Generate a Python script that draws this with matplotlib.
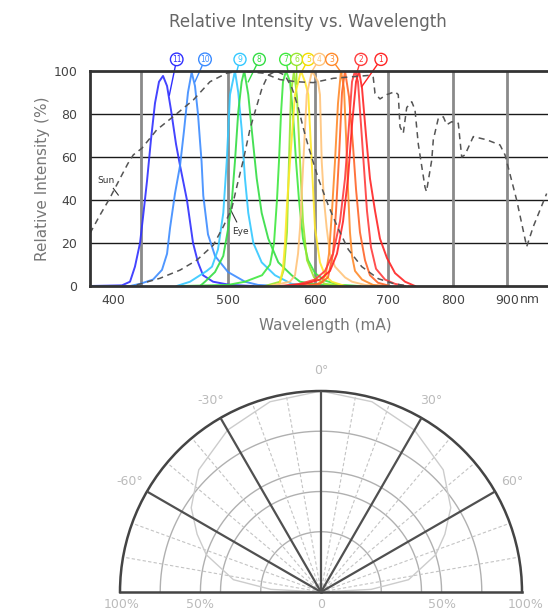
import numpy as np
import matplotlib
matplotlib.use('Agg')
import matplotlib.pyplot as plt

# ---- wavelength axis of the original is not linear; anchors for the scale
WL_ANCHOR = [380, 400, 500, 600, 700, 800, 900, 976]
POS_ANCHOR = [0, 23, 138, 225, 298, 363, 417, 458]

x_ticks = [400, 500, 600, 700, 800, 900]
x_labels = ['400', '500', '600', '700', '800', '900']
grid_wl = [424, 500, 600, 700, 800, 900]
y_ticks = [0, 20, 40, 60, 80, 100]

# ---- LED spectra (wavelength nm, relative intensity %)
led11_wl = [380, 407.8, 414.8, 419.1, 423.5, 426.1, 429.6, 433.0, 436.5, 440.0, 443.5, 447.0, 450.4, 454.8, 458.3, 464.3, 469.6, 473.9, 478.3, 487.0, 502.3, 528.7]
led11_pct = [0, 0.3, 2, 9, 20, 32, 49, 68, 85, 95, 97.7, 93, 82, 66, 56, 40, 20, 11, 5, 2, 0.5, 0]
led10_wl = [380, 414.8, 423.5, 434.8, 442.6, 447.0, 449.6, 453.9, 458.3, 461.7, 465.2, 468.4, 471.3, 473.9, 475.7, 477.0, 478.5, 482.6, 488.7, 500, 519.5, 534.5, 559.7]
led10_pct = [0, 0, 1, 3, 7.5, 15, 27, 43, 56, 72, 90, 99.4, 93, 80, 67, 58, 42, 24, 14, 6.5, 2, 0.5, 0]
led9_wl = [455.4, 467.0, 481.5, 486.1, 491.3, 495.9, 498.9, 502.3, 508.0, 511.8, 515.7, 519.5, 523.3, 529.1, 538.7, 554.0, 573.2, 594.3]
led9_pct = [0, 2, 7, 9, 17, 34, 58, 89, 100, 90, 73, 50, 34, 20, 11, 5, 1, 0]
led8_wl = [475.7, 480.0, 488.7, 495.9, 500.3, 504.3, 508.0, 511.8, 515.7, 518.7, 523.3, 527.2, 533.0, 538.7, 546.3, 557.8, 573.2, 582.8, 606.8, 657.1]
led8_pct = [0, 2, 6.5, 14, 27, 39, 58, 81, 95, 100, 89, 73, 50, 34, 22, 11, 5, 2, 0.5, 0]
led7_wl = [460, 500, 519.5, 539.1, 548.3, 552.9, 556.3, 558.6, 560.9, 563.2, 566.7, 571.3, 574.7, 578.2, 581.6, 586.2, 592.0, 600, 613.7, 634.2, 661.6]
led7_pct = [0, 0.5, 2, 5, 10, 20, 40, 58, 80, 95, 100, 95, 80, 58, 40, 22, 12, 6, 2.5, 0.5, 0]
led6_wl = [542.5, 559.8, 564.4, 567.8, 570.1, 572.4, 575.9, 579.3, 582.8, 586.2, 590.8, 598.9, 613.7, 641.1]
led6_pct = [0, 2, 8, 25, 58, 90, 100, 88, 58, 30, 12, 4, 1, 0]
led5_wl = [548.3, 559.3, 563.2, 565.5, 567.8, 571.3, 577.0, 583.9, 588.5, 592.3, 596.2, 600, 606.8, 613.7, 622.9, 641.1]
led5_pct = [0, 1, 8, 20, 38, 58, 89, 100, 95, 89, 58, 27, 11, 5, 2, 0]
led4_wl = [548.3, 571.3, 577.0, 580.5, 582.8, 586.6, 590.5, 596.6, 604.1, 606.8, 609.2, 612.3, 616.0, 620.5, 627.4, 641.1, 650.7, 668.5, 689.0]
led4_pct = [0, 2, 5, 15, 27, 58, 89, 100, 95, 89, 58, 40, 27, 15, 9, 4, 2, 0.5, 0]
led3_wl = [582.8, 600, 609.6, 615.1, 619.2, 623.3, 627.4, 631.5, 635.6, 639.7, 642.5, 645.2, 647.9, 650.7, 654.8, 664.4, 679.5, 695.9]
led3_pct = [0, 0.5, 2, 6, 15, 35, 58, 85, 100, 92, 70, 45, 25, 14, 7, 3, 0.5, 0]
led3b_wl = [582.8, 606.8, 617.8, 624.7, 628.8, 632.9, 637.0, 641.1, 646.6, 652.1, 656.2, 661.6, 668.5, 675.3, 686.3, 703.1]
led3b_pct = [0, 1, 4, 15, 35, 60, 90, 100, 88, 65, 45, 25, 12, 5, 1.5, 0]
led2_wl = [559.8, 582.8, 600, 613.7, 624.7, 634.2, 641.1, 646.6, 650.7, 654.8, 658.9, 663.0, 667.1, 671.2, 676.7, 683.6, 695.9, 710.8, 726.2]
led2_pct = [0, 1, 3, 7, 15, 30, 50, 75, 95, 100, 95, 75, 55, 35, 18, 8, 3, 1, 0]
led1_wl = [565.5, 588.5, 606.8, 620.5, 630.1, 638.4, 645.2, 650.7, 656.2, 660.3, 664.4, 669.9, 675.3, 682.2, 689.0, 698.6, 710.8, 726.2, 741.5]
led1_pct = [0, 1, 3, 7, 15, 30, 50, 75, 95, 100, 92, 70, 50, 35, 22, 13, 6, 2, 0]

# sun spectrum and eye sensitivity (dashed)
sun_wl = [380, 388.7, 397.4, 406.1, 413.0, 417.7, 425.0, 438.0, 452.4, 469.8, 484.3, 498.9, 513.8, 540.6, 559.8, 579.0, 598.0, 625.1, 675.3, 679.8, 682.2, 689.0, 698.2, 710.8, 715.8, 718.5, 723.5, 728.8, 736.5, 741.5, 746.6, 756.9, 759.2, 767.3, 769.7, 777.4, 785.1, 790.3, 798.0, 809.8, 816.1, 822.2, 837.6, 862.4, 887.0, 896.3, 917.9, 936.5, 948.7, 973.5]
sun_pct = [24.5, 33, 41, 50, 57, 61, 64, 72.6, 78.8, 86.5, 95, 99, 100, 99, 96, 95, 94.6, 96.6, 98, 97, 89.6, 87, 89, 90.4, 89, 74, 71, 83, 85.7, 82, 66, 46, 43.9, 58.6, 68, 78, 78.7, 75, 76.4, 75.7, 60, 61, 69.5, 68, 65.6, 61, 40, 18.3, 27.6, 43]
eye_wl = [420.6, 440.9, 458.3, 472.8, 487.2, 495.9, 504.3, 510.0, 517.6, 525.3, 531.0, 539.1, 546.0, 555.2, 565.5, 573.6, 580.8, 586.2, 592.3, 604.5, 618.2, 631.9, 645.6, 664.0, 686.7, 709.6, 732.3]
eye_pct = [0.5, 3.6, 7.4, 12, 19, 27.6, 36, 46, 58.6, 73, 81, 92, 98, 100, 98, 92, 83, 74, 65, 50, 37.5, 26.6, 17, 9, 3.4, 1, 0]

# numbered markers above the plot: label, marker wl, pointed wl, pointed %
marker_names = ['11', '10', '9', '8', '7', '6', '5', '4', '3', '2', '1']
marker_wl = [455.4, 480.0, 513.8, 536.0, 566.3, 578.9, 592.3, 605.9, 622.9, 663.0, 690.4]
marker_to_wl = [449.0, 471.3, 510.0, 523.3, 569.0, 579.0, 584.7, 596.2, 636.6, 657.1, 664.0]
marker_to_pct = [88.8, 95, 99.7, 95, 99.7, 94, 99.7, 99.7, 99, 99, 92.7]

# ---- beam pattern
beam_deg = [-90, -87, -82, -72, -65, -57, -45, -30, -15, 0, 15, 30, 45, 57, 65, 72, 82, 87, 90]
beam_r = [0, 0.25, 0.44, 0.60, 0.68, 0.77, 0.86, 0.93, 0.98, 1.0, 0.98, 0.93, 0.86, 0.77, 0.68, 0.60, 0.44, 0.25, 0]
ring_r = [0.3, 0.5, 0.6, 0.8]
major_deg = [-60, -30, 0, 30, 60]
minor_deg = [-80, -70, -50, -40, -20, -10, 10, 20, 40, 50, 70, 80]
bottom_r = [-0.99, -0.6, 0, 0.6, 1.02]
bottom_labels = ['100%', '50%', '0', '50%', '100%']

fig = plt.figure(figsize=(5.48, 6.12), dpi=100)

# ================= spectrum chart
ax = fig.add_axes([90 / 548, 1 - 286 / 612, 458 / 548, 215 / 612])


def fwd(x):
    return np.interp(x, WL_ANCHOR, POS_ANCHOR)


def inv(p):
    return np.interp(p, POS_ANCHOR, WL_ANCHOR)


ax.set_xscale('function', functions=(fwd, inv))
ax.set_xlim(380, 976)
ax.set_ylim(0, 100)

for y in [20, 40, 60, 80]:
    ax.axhline(y, color='#1a1a1a', lw=1.0, zorder=1)
for w in grid_wl:
    ax.axvline(w, color='#8a8a8a', lw=2.0, zorder=1)

leds = [
    (led11_wl, led11_pct, '#2f2fff'),
    (led10_wl, led10_pct, '#3d8cff'),
    (led9_wl, led9_pct, '#33c8ff'),
    (led8_wl, led8_pct, '#33dd44'),
    (led7_wl, led7_pct, '#3fe83f'),
    (led6_wl, led6_pct, '#99e62e'),
    (led5_wl, led5_pct, '#ffe82a'),
    (led4_wl, led4_pct, '#ffc47a'),
    (led3_wl, led3_pct, '#ff8a2a'),
    (led3b_wl, led3b_pct, '#ff6428'),
    (led2_wl, led2_pct, '#ff3c3c'),
    (led1_wl, led1_pct, '#ff2424'),
]
for wl, pct, c in leds:
    ax.plot(wl, pct, color=c, lw=1.4, alpha=0.9, zorder=3)

ax.plot(sun_wl, sun_pct, color='#555555', lw=1.1, dashes=(4, 3), zorder=4)
ax.plot(eye_wl, eye_pct, color='#555555', lw=1.1, dashes=(4, 3), zorder=4)

ax.text(393.9, 49.3, 'Sun', fontsize=6.5, color='#333333', ha='center', va='center')
ax.plot([400.3, 404.6], [45.4, 42.3], color='#333333', lw=0.8)
ax.text(513.8, 25.5, 'Eye', fontsize=6.5, color='#333333', ha='center', va='center')
ax.plot([502.3, 510.0], [36, 29.8], color='#333333', lw=0.8)

marker_colors = ['#2f2fff', '#3d8cff', '#33c8ff', '#33dd44', '#3fe83f', '#99e62e',
                 '#f5dc00', '#ffc47a', '#ff8a2a', '#ff3c3c', '#ff2424']
for name, mw, tw, tp, c in zip(marker_names, marker_wl, marker_to_wl, marker_to_pct, marker_colors):
    ax.plot([mw, tw], [105.4, tp], color=c, lw=1.0, clip_on=False, zorder=5)
    ax.text(mw, 105.4, name, fontsize=5.5, color=c, ha='center', va='center', zorder=6,
            clip_on=False,
            bbox=dict(boxstyle='circle,pad=0.2', fc='white', ec=c, lw=1.0))

for s in ['left', 'top', 'bottom']:
    ax.spines[s].set_linewidth(2)
    ax.spines[s].set_color('#333333')
    ax.spines[s].set_zorder(7)
ax.spines['right'].set_visible(False)

ax.set_xticks(x_ticks)
ax.set_xticklabels(x_labels)
ax.set_yticks(y_ticks)
ax.tick_params(length=0, labelsize=9, labelcolor='#444444')
ax.tick_params(axis='y', pad=9)
ax.tick_params(axis='x', pad=6)
ax.text(942, -6.4, 'nm', fontsize=9, color='#444444', ha='center', va='center')

ax.set_ylabel('Relative Intensity (%)', fontsize=11, color='#777777')
ax.yaxis.set_label_coords(-0.088, 0.5)
ax.set_xlabel('Wavelength (mA)', fontsize=11, color='#777777')
ax.xaxis.set_label_coords(0.513, -0.15)

fig.text(308 / 548, 1 - 22 / 612, 'Relative Intensity vs. Wavelength',
         fontsize=12, color='#666666', ha='center', va='center')

# ================= beam angle chart
# polar axes keep a square box; the half disc sits in its middle
pax = fig.add_axes([120 / 548, 1 - 692.5 / 612, 402 / 548, 402 / 612], projection='polar')
pax.set_theta_zero_location('N')
pax.set_theta_direction(-1)
pax.set_thetamin(-90)
pax.set_thetamax(90)
pax.set_ylim(0, 1)
pax.set_xticks([])
pax.set_yticks([])

full = np.deg2rad(np.linspace(-90, 90, 181))
for r in ring_r:
    pax.plot(full, np.full_like(full, r), color='#b0b0b0', lw=1.0, zorder=2)
for d in minor_deg:
    pax.plot([np.deg2rad(d)] * 2, [0, 1], color='#c4c4c4', lw=0.8, dashes=(3, 2), zorder=2)
pax.plot(np.deg2rad(beam_deg), beam_r, color='#cccccc', lw=1.0, zorder=2)
for d in major_deg:
    pax.plot([np.deg2rad(d)] * 2, [0, 1], color='#505050', lw=1.6, zorder=3)

for s in ['polar', 'start', 'end']:
    pax.spines[s].set_color('#444444')
    pax.spines[s].set_linewidth(1.8)

for d in major_deg:
    pax.text(np.deg2rad(d), 1.1, f'{d}°', fontsize=9, color='#bbbbbb',
             ha='center', va='center', clip_on=False)
for r, lbl in zip(bottom_r, bottom_labels):
    th = np.deg2rad(90 if r >= 0 else -90)
    pax.annotate(lbl, xy=(th, abs(r)), xytext=(0, -9), textcoords='offset points',
                 fontsize=9, color='#bbbbbb', ha='center', va='center', annotation_clip=False)

fig.savefig('out.png', dpi=100, facecolor='white')
